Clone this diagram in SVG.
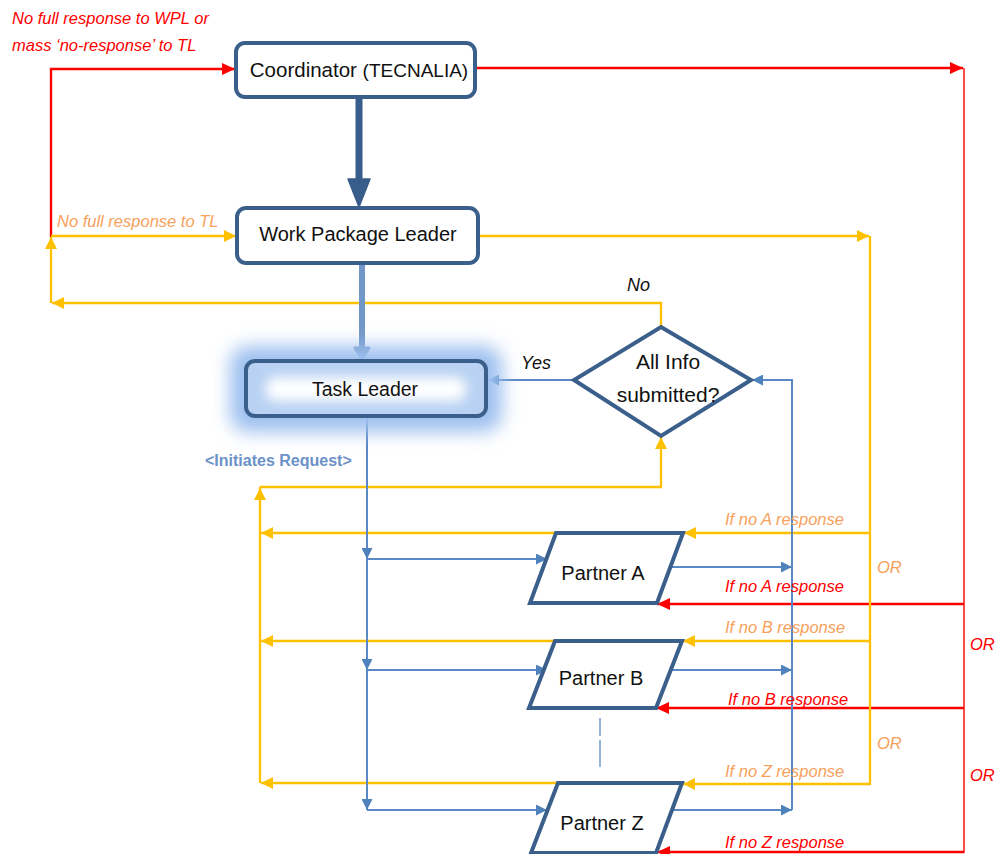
<svg xmlns="http://www.w3.org/2000/svg" width="996" height="854" viewBox="0 0 996 854">
  <defs>
    <style>
      .box { fill: #ffffff; stroke: #3a5f8b; stroke-width: 4; }
      .label { font-family: "Liberation Sans", Arial, sans-serif; fill: #111111; }
      .node-text { font-size: 20px; text-anchor: middle; }
      .note { font-family: "Liberation Sans", Arial, sans-serif; font-style: italic; font-size: 16.5px; }
      .note-red { fill: #ff0000; }
      .note-orange { fill: #f8a15c; }
      .ln-orange { fill: none; stroke: #ffc000; stroke-width: 2.3; }
      .ln-blue { fill: none; stroke: #5a88c6; stroke-width: 2; }
      .ln-red { fill: none; stroke: #ff0000; stroke-width: 2.4; }
      .ln-red-soft { fill: none; stroke: #ff4a4a; stroke-width: 2; }
    </style>
    <marker id="ah-orange" viewBox="0 0 12 12" refX="12" refY="6" markerWidth="12" markerHeight="12" orient="auto" markerUnits="userSpaceOnUse">
      <path d="M0,0 L12,6 L0,12 z" fill="#ffc000"/>
    </marker>
    <marker id="ah-blue" viewBox="0 0 11 11" refX="11" refY="5.5" markerWidth="11" markerHeight="11" orient="auto" markerUnits="userSpaceOnUse">
      <path d="M0,0 L11,5.5 L0,11 z" fill="#4f81bd"/>
    </marker>
    <marker id="ah-red" viewBox="0 0 13 12" refX="13" refY="6" markerWidth="13" markerHeight="12" orient="auto" markerUnits="userSpaceOnUse">
      <path d="M0,0 L13,6 L0,12 z" fill="#ff0000"/>
    </marker>
    <filter id="glow" x="-30%" y="-60%" width="160%" height="220%">
      <feGaussianBlur stdDeviation="9"/>
    </filter>
    <filter id="soft" x="-20%" y="-80%" width="140%" height="260%">
      <feGaussianBlur stdDeviation="6"/>
    </filter>
  </defs>

  <rect width="996" height="854" fill="#ffffff"/>

  <!-- connectors -->
  <g id="connectors">
    <!-- red escalation to coordinator -->
    <path class="ln-red" d="M51,237 V69 H235" marker-end="url(#ah-red)"/>
    <path class="ln-red" d="M475,68 H963" marker-end="url(#ah-red)"/>
    <path class="ln-red-soft" d="M964,68 V853"/>
    <path class="ln-red" d="M964,604 H657" marker-end="url(#ah-red)"/>
    <path class="ln-red" d="M964,708 H656" marker-end="url(#ah-red)"/>
    <path class="ln-red" d="M964,852 H657" marker-end="url(#ah-red)"/>

    <!-- orange: "No" loop back to the work package leader -->
    <path class="ln-orange" d="M661,327 V303 H52" marker-end="url(#ah-orange)"/>
    <path class="ln-orange" d="M51,303 V237" marker-end="url(#ah-orange)"/>
    <path class="ln-orange" d="M51,236 H236" marker-end="url(#ah-orange)"/>

    <!-- orange: work package leader chasing partners -->
    <path class="ln-orange" d="M478,236 H869" marker-end="url(#ah-orange)"/>
    <path class="ln-orange" d="M870,236 V784 H683" marker-end="url(#ah-orange)"/>
    <path class="ln-orange" d="M870,533 H684" marker-end="url(#ah-orange)"/>
    <path class="ln-orange" d="M870,641 H683" marker-end="url(#ah-orange)"/>

    <!-- orange: partner returns to the decision -->
    <path class="ln-orange" d="M556,533 H261" marker-end="url(#ah-orange)"/>
    <path class="ln-orange" d="M555,641 H261" marker-end="url(#ah-orange)"/>
    <path class="ln-orange" d="M558,783 H261" marker-end="url(#ah-orange)"/>
    <path class="ln-orange" d="M260,783 V487"/>
    <path class="ln-orange" d="M260,500 V488" marker-end="url(#ah-orange)"/>
    <path class="ln-orange" d="M260,487 H661 V437" marker-end="url(#ah-orange)"/>

    <!-- blue: task leader requests -->
    <path class="ln-blue" d="M367,417 V559" marker-end="url(#ah-blue)"/>
    <path class="ln-blue" d="M367,559 V670" marker-end="url(#ah-blue)"/>
    <path class="ln-blue" d="M367,670 V810" marker-end="url(#ah-blue)"/>
    <path class="ln-blue" d="M367,559 H547" marker-end="url(#ah-blue)"/>
    <path class="ln-blue" d="M367,670 H547" marker-end="url(#ah-blue)"/>
    <path class="ln-blue" d="M367,810 H547" marker-end="url(#ah-blue)"/>

    <!-- blue: partner submissions to the decision -->
    <path class="ln-blue" d="M670,567 H792" marker-end="url(#ah-blue)"/>
    <path class="ln-blue" d="M668,670 H792" marker-end="url(#ah-blue)"/>
    <path class="ln-blue" d="M673,810 H792" marker-end="url(#ah-blue)"/>
    <path class="ln-blue" d="M792,810 V380 H752" marker-end="url(#ah-blue)"/>
    <path class="ln-blue" d="M573,380 H488" marker-end="url(#ah-blue)"/>

    <!-- heavy hierarchy arrows -->
    <path d="M359,97 V181" fill="none" stroke="#385d8a" stroke-width="7"/>
    <polygon points="348,179 370,179 359,207" fill="#385d8a" stroke="#385d8a" stroke-width="1.5" stroke-linejoin="round"/>
    <path d="M362,263 V350" fill="none" stroke="#7196c8" stroke-width="6"/>
    <polygon points="355,348 369,348 362,359" fill="#7196c8" stroke="#7196c8" stroke-width="3" stroke-linejoin="round"/>

    <!-- ellipsis between partner B and partner Z -->
    <path d="M600,718 V736 M600,740 V767" fill="none" stroke="#4f81bd" stroke-width="1.2"/>
  </g>

  <!-- coordinator -->
  <g id="coordinator">
    <rect class="box" x="236" y="43" width="239" height="54" rx="9"/>
    <text class="label" x="359" y="77" text-anchor="middle" font-size="20.5">Coordinator <tspan font-size="19">(TECNALIA)</tspan></text>
  </g>

  <!-- work package leader -->
  <g id="work-package-leader">
    <rect class="box" x="237" y="208" width="241" height="55" rx="9"/>
    <text class="label node-text" x="358" y="241">Work Package Leader</text>
  </g>

  <!-- task leader with glow -->
  <g id="task-leader">
    <rect x="230" y="346" width="272" height="86" rx="18" fill="#9dc0ef" filter="url(#glow)"/>
    <rect x="246" y="361" width="240" height="55" rx="9" fill="#b9d2f3"/>
    <rect x="266" y="377" width="200" height="24" rx="10" fill="#ffffff" filter="url(#soft)"/>
    <rect x="246" y="361" width="240" height="55" rx="9" fill="none" stroke="#3a5f8b" stroke-width="4"/>
    <text class="label" x="365" y="396" text-anchor="middle" font-size="19.5">Task Leader</text>
  </g>

  <!-- decision -->
  <g id="decision">
    <polygon points="661,327 751,380 661,436 574,380" fill="#ffffff" stroke="#3a5f8b" stroke-width="4" stroke-linejoin="miter"/>
    <text class="label" x="668" y="369" text-anchor="middle" font-size="21">All Info</text>
    <text class="label" x="668" y="402" text-anchor="middle" font-size="21">submitted?</text>
  </g>

  <!-- partners -->
  <g id="partner-a">
    <polygon class="box" points="556,533 683,533 657,603 530,603"/>
    <text class="label node-text" x="603" y="580">Partner A</text>
  </g>
  <g id="partner-b">
    <polygon class="box" points="555,641 682,641 656,708 529,708"/>
    <text class="label node-text" x="601" y="685">Partner B</text>
  </g>
  <g id="partner-z">
    <polygon class="box" points="558,783 682,783 656,853 531,853"/>
    <text class="label node-text" x="602" y="830">Partner Z</text>
  </g>

  <!-- connector labels -->
  <g id="labels">
    <text class="note note-red" x="12" y="24" font-size="16.8">No full response to WPL or</text>
    <text class="note note-red" x="12" y="51" font-size="16.8">mass ‘no-response’ to TL</text>
    <text class="note note-orange" x="57" y="227">No full response to TL</text>

    <text class="label" x="627" y="291" font-style="italic" font-size="18">No</text>
    <text class="label" x="521" y="369" font-style="italic" font-size="18">Yes</text>
    <text x="205" y="466" font-family="Liberation Sans, Arial, sans-serif" font-weight="bold" font-size="16" fill="#6b91c7">&lt;Initiates Request&gt;</text>

    <text class="note note-orange" x="725" y="525">If no A response</text>
    <text class="note note-red" x="725" y="592">If no A response</text>
    <text class="note note-orange" x="725" y="633">If no B response</text>
    <text class="note note-red" x="728" y="705">If no B response</text>
    <text class="note note-orange" x="725" y="777">If no Z response</text>
    <text class="note note-red" x="725" y="848">If no Z response</text>

    <text class="note note-orange" x="877" y="573" font-size="16">OR</text>
    <text class="note note-orange" x="877" y="749" font-size="16">OR</text>
    <text class="note note-red" x="970" y="650" font-size="16">OR</text>
    <text class="note note-red" x="970" y="781" font-size="16">OR</text>
  </g>
</svg>
